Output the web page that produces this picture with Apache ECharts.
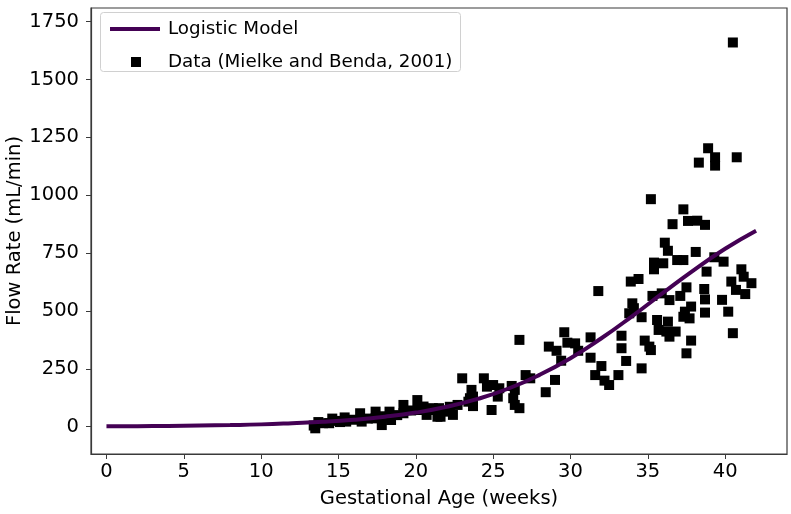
<!DOCTYPE html>
<html>
<head>
<meta charset="utf-8">
<script src="https://cdn.jsdelivr.net/npm/echarts@6/dist/echarts.min.js"></script>
<style>html,body{margin:0;padding:0;background:#fff}#c{width:791px;height:514px}</style>
</head>
<body>
<div id="c"></div>
<script>
// Logistic model curve
const modelX = [0,2,4,6,8,10,12,14,16,18,20,22,24,26,28,30,32,34,36,38,40,42];
const modelY = [1.6,2.3,3.4,4.9,7,10,15,21,30,43,61,86,120,165,224,296,382,478,579,678,769,847];

// Data (Mielke and Benda, 2001) - gestational age (weeks)
const dataX = [13.4,13.5,13.7,14.0,14.4,14.6,14.9,15.1,15.4,15.5,15.9,16.4,16.5,16.9,17.4,17.4,17.8,18.0,18.3,18.4,18.8,19.2,19.2,19.7,20.1,20.1,20.5,20.7,20.9,21.1,21.4,21.5,21.6,22.0,22.2,22.4,22.7,23.0,23.4,23.5,23.6,23.7,23.7,24.4,24.6,24.9,25.0,25.3,25.4,
26.2,26.4,26.3,26.4,26.7,26.7,27.1,27.4,28.4,28.6,29.0,29.1,29.4,29.6,29.8,30.3,30.5,31.3,31.3,31.6,31.8,32.0,32.2,32.5,33.1,33.3,33.3,33.6,33.8,33.9,34.0,34.1,34.4,34.6,34.6,34.8,35.1,35.2,35.2,35.3,35.4,35.4,35.6,35.7,35.9,36.0,36.1,36.2,36.3,36.3,36.4,36.4,36.6,36.8,36.9,37.1,37.3,37.3,37.3,37.4,37.5,37.5,37.6,37.7,37.8,37.8,38.1,38.2,38.3,38.65,38.7,38.7,38.7,38.8,38.9,39.3,39.35,39.35,39.8,39.9,40.2,40.4,40.5,40.5,40.7,40.75,41.05,41.2,41.3,41.7];
// flow rate (mL/min)
const dataY = [5,-7,20,15,15,35,25,20,40,22,30,58,22,35,65,36,7,45,65,29,50,94,58,70,115,72,87,51,72,80,43,80,43,65,86,51,94,209,108,123,159,89,130,209,173,72,180,130,166,
176,159,123,94,80,375,223,209,149,346,202,328,285,408,363,360,328,386,298,223,586,262,199,180,223,393,339,284,490,627,533,512,638,473,252,372,346,331,983,565,709,680,461,418,576,706,795,411,760,454,547,389,875,411,720,565,720,939,475,497,602,317,889,468,519,372,755,890,1141,595,872,550,493,670,1203,732,1164,1128,548,713,497,627,1660,404,591,1164,680,648,573,620];

const xTicks = [0,5,10,15,20,25,30,35,40];
const yTicks = [0,250,500,750,1000,1250,1500,1750];

const FONT = 'DejaVu Sans';
const FS = 19.5;
const LFS = 18.3;
const chart = echarts.init(document.getElementById('c'), null, {renderer: 'canvas'});

const modelData = modelX.map((x, i) => [x, modelY[i]]);
const pts = dataX.map((x, i) => [x, dataY[i]]);
const AX = '#3a3a3a';

chart.setOption({
  animation: false,
  backgroundColor: '#fff',
  grid: {left: 91, right: 4, top: 8, bottom: 60, outerBoundsMode: 'none', containLabel: false,
         show: true, borderColor: AX, borderWidth: 1.2, backgroundColor: 'transparent'},
  xAxis: {
    type: 'value', min: -1, max: 44,
    name: 'Gestational Age (weeks)', nameLocation: 'middle', nameGap: 35, nameMoveOverlap: false,
    nameTextStyle: {fontFamily: FONT, fontSize: FS, color: '#000'},
    axisLine: {show: true, onZero: false, lineStyle: {color: AX, width: 1.2}},
    axisTick: {show: true, inside: false, length: 5, customValues: xTicks, lineStyle: {color: AX}},
    axisLabel: {customValues: xTicks, fontFamily: FONT, fontSize: FS, color: '#000', margin: 8, formatter: v => String(v)},
    splitLine: {show: false}
  },
  yAxis: {
    type: 'value', min: -118, max: 1809,
    name: 'Flow Rate (mL/min)', nameLocation: 'middle', nameGap: 66, nameRotate: 90, nameMoveOverlap: false,
    nameTextStyle: {fontFamily: FONT, fontSize: FS, color: '#000'},
    axisLine: {show: true, onZero: false, lineStyle: {color: AX, width: 1.2}},
    axisTick: {show: true, inside: false, length: 5, customValues: yTicks, lineStyle: {color: AX}},
    axisLabel: {customValues: yTicks, fontFamily: FONT, fontSize: FS, color: '#000', margin: 12, formatter: v => String(v)},
    splitLine: {show: false}
  },
  graphic: [{
    type: 'rect', left: 100, top: 12, z: 90,
    shape: {width: 360, height: 59, r: 3},
    style: {fill: 'rgba(255,255,255,0.85)', stroke: '#d0d0d0', lineWidth: 1}
  }],
  legend: [{
    data: [{name: 'Logistic Model'}],
    left: 105, top: 15, icon: 'rect', itemWidth: 50, itemHeight: 4, itemGap: 10, z: 100,
    textStyle: {fontFamily: FONT, fontSize: LFS, color: '#000', padding: [0,0,0,3]}
  }, {
    data: [{name: 'Data (Mielke and Benda, 2001)'}],
    left: 126, top: 48, icon: 'rect', itemWidth: 10, itemHeight: 10, itemGap: 10, z: 100,
    textStyle: {fontFamily: FONT, fontSize: LFS, color: '#000', padding: [0,0,0,22]}
  }],
  series: [{
    name: 'Data (Mielke and Benda, 2001)', type: 'scatter', data: pts,
    symbol: 'rect', symbolSize: 10, itemStyle: {color: '#000', opacity: 1}, z: 2
  }, {
    name: 'Logistic Model', type: 'line', data: modelData, smooth: true,
    showSymbol: false, lineStyle: {color: '#440154', width: 4}, itemStyle: {color: '#440154'}, z: 3
  }]
});
</script>
</body>
</html>
